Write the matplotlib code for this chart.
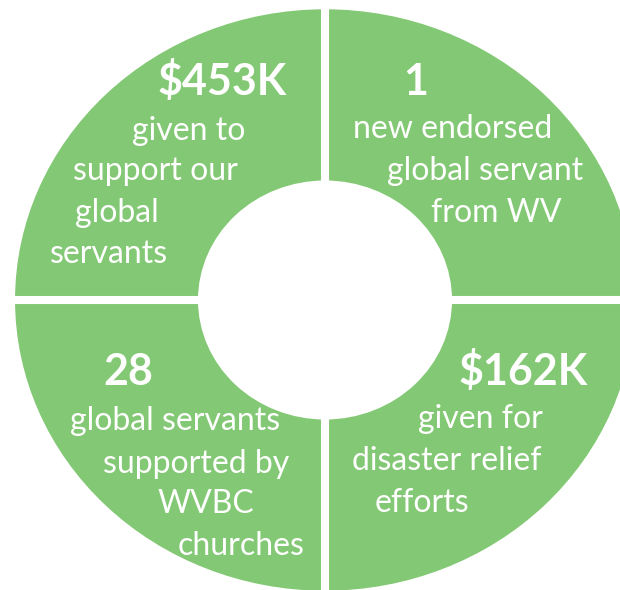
import matplotlib
matplotlib.use("Agg")
import matplotlib.pyplot as plt

# ---- data ----
segments = ["global servant endorsed", "disaster relief", "global servants supported", "given to global servants"]
values = [1, 1, 1, 1]  # four equal quadrants
headlines = ["1", "$162K", "28", "$453K"]
descriptions = [
    ["new endorsed", "global servant", "from WV"],
    ["given for", "disaster relief", "efforts"],
    ["global servants", "supported by", "WVBC", "churches"],
    ["given to", "support our", "global", "servants"],
]

# ---- layout (pixel positions of text, figure 620x590) ----
W, H = 620, 590
head_pos = [(416, 95), (523, 385), (128, 385), (222, 95)]
desc_pos = [
    [(453, 138), (485, 180), (496, 222)],
    [(480, 428), (447, 470), (422, 512)],
    [(175, 430), (196, 473), (206, 513), (241, 555)],
    [(189, 140), (155, 180), (117, 222), (109, 263)],
]

GREEN = "#83C874"

fig = plt.figure(figsize=(W / 100, H / 100), dpi=100)
ax = fig.add_axes([0, 0, 1, 1])
cx, cy = 325, 300
ysc = 291 / 310
ax.pie(values, startangle=90, counterclock=False, radius=314, colors=[GREEN] * 4,
       wedgeprops=dict(width=314 - 123, edgecolor="white", linewidth=5.8))
ax.set_aspect("auto")
ax.set_xlim(-cx, W - cx)
ax.set_ylim((cy - H) / ysc, cy / ysc)
ax.axis("off")

for (hx, hy), txt in zip(head_pos, headlines):
    fig.text(hx / W, 1 - hy / H, txt, ha="center", va="baseline", color="white",
             fontsize=31, fontweight="bold", family="Lato")
for lines, poss in zip(descriptions, desc_pos):
    for txt, (tx, ty) in zip(lines, poss):
        fig.text(tx / W, 1 - ty / H, txt, ha="center", va="baseline", color="white",
                 fontsize=23, family="Lato")

fig.savefig("out.png", dpi=100, facecolor="white")
